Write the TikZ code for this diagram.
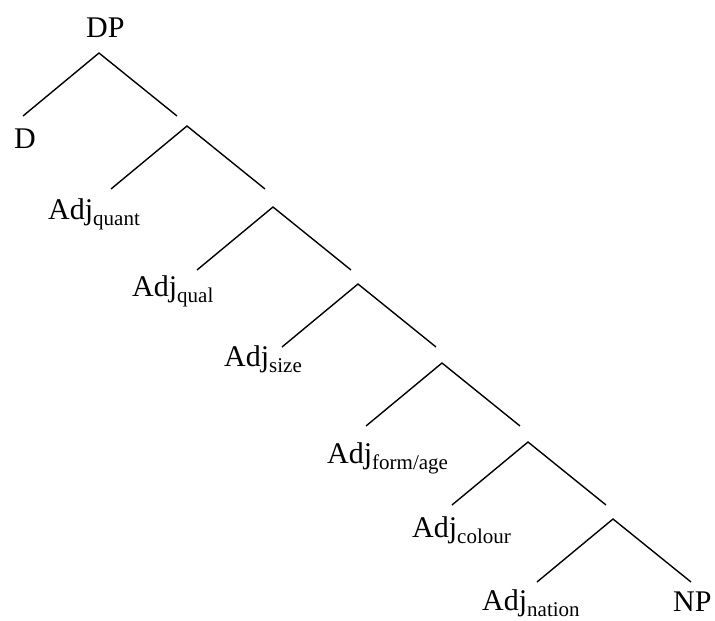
\documentclass[tikz,border=0pt]{standalone}
\usepackage{fontspec}
\setmainfont{Liberation Serif}
\usepackage{tikz}
\tikzset{%
    branch/.style={line width=1.4pt},
    cat/.style={inner sep=0pt, anchor=base west, font=\fontsize{30}{36}\selectfont}
}
\newcommand{\adjsub}[1]{Adj\raisebox{-6pt}{\fontsize{21}{25}\selectfont #1}}

\begin{document}
\begin{tikzpicture}[x=1pt,y=-1pt]
    \useasboundingbox (0,0) rectangle (715,621);
%-----------------------------------------------
    \foreach \n/\x/\y in {1/99/53,2/187/126,3/273/207,4/358/284,5/442/363,6/528/442,7/613/519}{
        \coordinate (top\n) at (\x,\y);
        \coordinate (left\n) at (\x-76,\y+63);
        \coordinate (right\n) at (\x+78,\y+63);
        \draw[branch] (left\n)--(top\n)--(right\n);
    }
%-----------------------------------------------
    \node[cat] (dp) at (86,37) {DP};
    \node[cat] (d) at (14,148) {D};
    \node[cat] (quant) at (48,219) {\adjsub{quant}};
    \node[cat] (qual) at (132,296) {\adjsub{qual}};
    \node[cat] (size) at (224,366) {\adjsub{size}};
    \node[cat] (formage) at (327,463) {\adjsub{form/age}};
    \node[cat] (colour) at (412,537) {\adjsub{colour}};
    \node[cat] (nation) at (482,610) {\adjsub{nation}};
    \node[cat] (np) at (673,611) {NP};
\end{tikzpicture}
\end{document}
